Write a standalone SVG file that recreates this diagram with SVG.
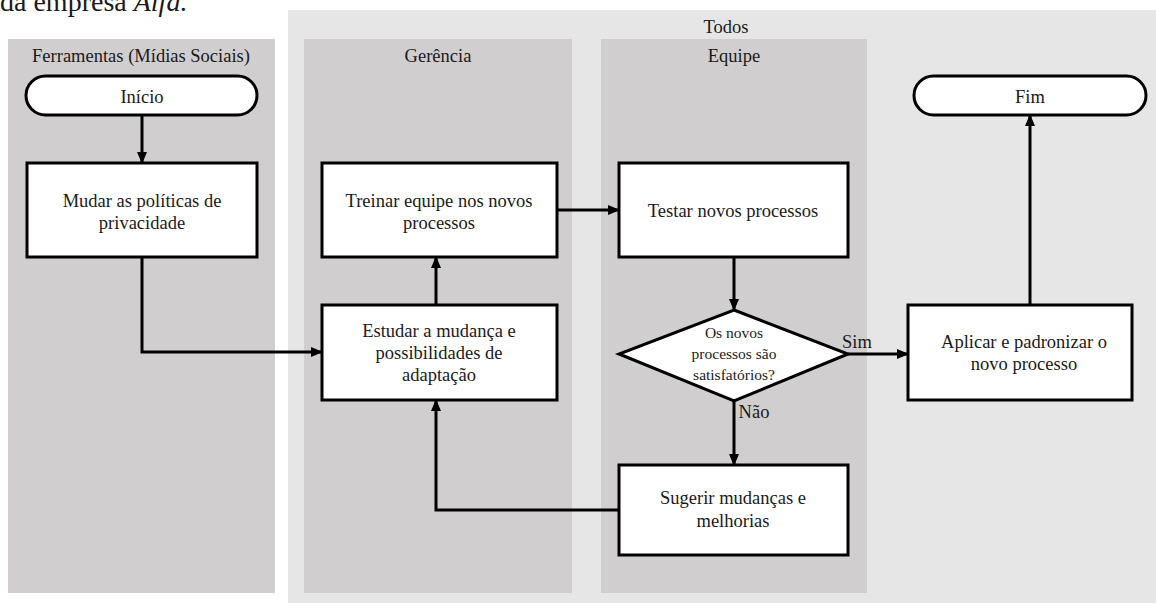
<svg xmlns="http://www.w3.org/2000/svg" width="1156" height="603" viewBox="0 0 1156 603">
<style>
text{font-family:"Liberation Serif","Times New Roman",serif;fill:#1a1a1a;text-anchor:middle}
.t{font-size:18.5px}
.s{font-size:15.5px}
.box{fill:#fff;stroke:#000;stroke-width:3}
.c{fill:none;stroke:#000;stroke-width:3}
.lane{fill:#d0cecf}
</style>
<defs>
<marker id="ah" markerUnits="userSpaceOnUse" markerWidth="12" markerHeight="10" refX="11" refY="5" orient="auto">
<path d="M0,0 L12,5 L0,10 Z" fill="#000"/>
</marker>
</defs>
<text x="0" y="11" style="font-size:28px;text-anchor:start">da empresa <tspan font-style="italic">Alfa.</tspan></text>
<g id="lane-todos">
<rect x="288" y="10" width="868" height="593" fill="#e6e6e6"/>
<text class="t" x="726" y="33">Todos</text>
</g>
<g id="lane-ferramentas">
<rect class="lane" x="8" y="39" width="267" height="554"/>
<text class="t" x="141" y="62">Ferramentas  (Mídias Sociais)</text>
</g>
<g id="lane-gerencia">
<rect class="lane" x="304" y="39" width="268" height="554"/>
<text class="t" x="438" y="62">Gerência</text>
</g>
<g id="lane-equipe">
<rect class="lane" x="601" y="39" width="266" height="554"/>
<text class="t" x="734" y="62">Equipe</text>
</g>
<g id="connectors">
<line class="c" x1="142" y1="115" x2="142" y2="163" marker-end="url(#ah)"/>
<polyline class="c" points="142,257 142,352 322,352" marker-end="url(#ah)"/>
<line class="c" x1="436" y1="305" x2="436" y2="257" marker-end="url(#ah)"/>
<line class="c" x1="557" y1="210" x2="619" y2="210" marker-end="url(#ah)"/>
<line class="c" x1="734" y1="257" x2="734" y2="310" marker-end="url(#ah)"/>
<line class="c" x1="848" y1="354" x2="908" y2="354" marker-end="url(#ah)"/>
<line class="c" x1="734" y1="401" x2="734" y2="465" marker-end="url(#ah)"/>
<polyline class="c" points="619,510 436,510 436,400" marker-end="url(#ah)"/>
<line class="c" x1="1030" y1="305" x2="1030" y2="115" marker-end="url(#ah)"/>
<text class="t" x="857" y="348">Sim</text>
<text class="t" x="754" y="418">Não</text>
</g>
<g id="inicio">
<rect class="box" x="26" y="76" width="231" height="39" rx="19.5"/>
<text class="t" x="142" y="103">Início</text>
</g>
<g id="mudar">
<rect class="box" x="27" y="163" width="230" height="94"/>
<text class="t" x="142" y="207">Mudar as políticas  de</text>
<text class="t" x="142" y="229">privacidade</text>
</g>
<g id="treinar">
<rect class="box" x="322" y="163" width="235" height="94"/>
<text class="t" x="439" y="207">Treinar equipe nos novos</text>
<text class="t" x="439" y="229">processos</text>
</g>
<g id="estudar">
<rect class="box" x="322" y="305" width="235" height="95"/>
<text class="t" x="439" y="337">Estudar a mudança e</text>
<text class="t" x="439" y="359">possibilidades de</text>
<text class="t" x="439" y="381">adaptação</text>
</g>
<g id="testar">
<rect class="box" x="619" y="163" width="229" height="94"/>
<text class="t" x="733" y="217">Testar novos processos</text>
</g>
<g id="decisao">
<polygon class="box" points="734,310 848,354 734,401 619,354"/>
<text class="s" x="734" y="338">Os novos</text>
<text class="s" x="734" y="359">processos são</text>
<text class="s" x="734" y="380">satisfatórios?</text>
</g>
<g id="sugerir">
<rect class="box" x="619" y="465" width="229" height="90"/>
<text class="t" x="733" y="504">Sugerir mudanças  e</text>
<text class="t" x="733" y="527">melhorias</text>
</g>
<g id="aplicar">
<rect class="box" x="908" y="305" width="224" height="95"/>
<text class="t" x="1024" y="348">Aplicar  e padronizar  o</text>
<text class="t" x="1024" y="370">novo  processo</text>
</g>
<g id="fim">
<rect class="box" x="914" y="76" width="232" height="39" rx="19.5"/>
<text class="t" x="1030" y="103">Fim</text>
</g>
</svg>
